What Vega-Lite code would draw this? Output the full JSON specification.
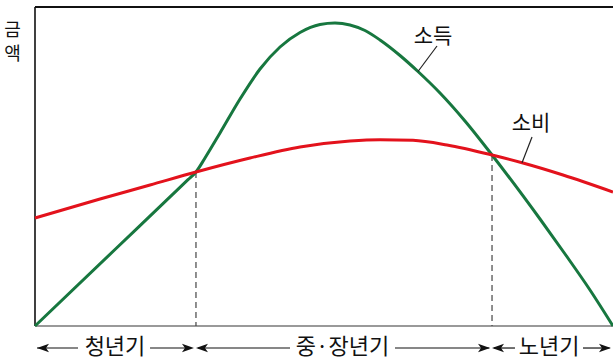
{
  "$schema": "https://vega.github.io/schema/vega-lite/v6.json",
  "width": 613,
  "height": 361,
  "autosize": {"type": "none"},
  "padding": 0,
  "background": "white",
  "config": {"view": {"stroke": null}, "text": {"font": "Noto Sans CJK KR"}},
  "datasets": {
    "curves": [
      {"series": "소득", "age": 0, "amount": 0},
      {"series": "소득", "age": 13.84, "amount": 23.98},
      {"series": "소득", "age": 23.36, "amount": 40.47},
      {"series": "소득", "age": 26.47, "amount": 45.86},
      {"series": "소득", "age": 27.85, "amount": 48.28},
      {"series": "소득", "age": 29.41, "amount": 52.66},
      {"series": "소득", "age": 32.01, "amount": 60.5},
      {"series": "소득", "age": 35.47, "amount": 71.16},
      {"series": "소득", "age": 38.93, "amount": 80.56},
      {"series": "소득", "age": 42.39, "amount": 87.46},
      {"series": "소득", "age": 45.85, "amount": 92.01},
      {"series": "소득", "age": 49.31, "amount": 94.51},
      {"series": "소득", "age": 51.9, "amount": 94.98},
      {"series": "소득", "age": 54.5, "amount": 94.36},
      {"series": "소득", "age": 57.09, "amount": 92.63},
      {"series": "소득", "age": 59.69, "amount": 89.66},
      {"series": "소득", "age": 63.15, "amount": 84.8},
      {"series": "소득", "age": 66.26, "amount": 79.78},
      {"series": "소득", "age": 70.07, "amount": 73.04},
      {"series": "소득", "age": 74.39, "amount": 64.26},
      {"series": "소득", "age": 79.07, "amount": 53.61},
      {"series": "소득", "age": 87.37, "amount": 33.54},
      {"series": "소득", "age": 91.7, "amount": 22.57},
      {"series": "소득", "age": 96.02, "amount": 11.29},
      {"series": "소득", "age": 100, "amount": 0},
      {"series": "소비", "age": 0, "amount": 33.86},
      {"series": "소비", "age": 11.25, "amount": 39.81},
      {"series": "소비", "age": 19.9, "amount": 44.2},
      {"series": "소비", "age": 27.85, "amount": 48.28},
      {"series": "소비", "age": 37.2, "amount": 52.66},
      {"series": "소비", "age": 45.85, "amount": 56.11},
      {"series": "소비", "age": 54.5, "amount": 57.99},
      {"series": "소비", "age": 59.69, "amount": 58.4},
      {"series": "소비", "age": 65.4, "amount": 58.2},
      {"series": "소비", "age": 71.28, "amount": 56.74},
      {"series": "소비", "age": 79.07, "amount": 53.61},
      {"series": "소비", "age": 84.43, "amount": 51.1},
      {"series": "소비", "age": 91.35, "amount": 47.34},
      {"series": "소비", "age": 100, "amount": 42.01}
    ],
    "crossings": [
      {"age": 27.85, "amount": 48.28, "base": 0},
      {"age": 79.07, "amount": 53.61, "base": 0}
    ],
    "leftFrame": [{"x": 0, "y": 0, "x2": 0, "y2": 100}],
    "topFrame": [{"x": 0, "y": 100, "x2": 100, "y2": 100}],
    "bottomFrame": [{"x": 0, "y": 0, "x2": 100, "y2": 0}],
    "leaders": [
      {"x": 69.55, "y": 87.77, "x2": 66.26, "y2": 79.78},
      {"x": 85.99, "y": 59.25, "x2": 84.26, "y2": 51.2}
    ],
    "seriesLabels": [
      {"label": "소득", "x": 68.86, "y": 90.6},
      {"label": "소비", "x": 85.81, "y": 63.32}
    ],
    "yLabel": [
      {"label": "금\n액", "x": -3.89, "y": 92.48}
    ],
    "arrowLines": [
      {"x": 0.35, "x2": 7.44, "y": -6.9},
      {"x": 19.9, "x2": 27.0, "y": -6.9},
      {"x": 28.2, "x2": 44.12, "y": -6.9},
      {"x": 62.28, "x2": 78.6, "y": -6.9},
      {"x": 79.4, "x2": 83.04, "y": -6.9},
      {"x": 94.81, "x2": 99.4, "y": -6.9}
    ],
    "leftHeads": [
      {"x": 0.35, "y": -6.9},
      {"x": 27.85, "y": -6.9},
      {"x": 79.07, "y": -6.9}
    ],
    "rightHeads": [
      {"x": 27.5, "y": -6.9},
      {"x": 78.72, "y": -6.9},
      {"x": 99.65, "y": -6.9}
    ],
    "periods": [
      {"label": "청년기", "x": 13.84, "y": -6.6},
      {"label": "중·장년기", "x": 53.2, "y": -6.6},
      {"label": "노년기", "x": 88.93, "y": -6.6}
    ]
  },
  "layer": [
    {
      "data": {"name": "leftFrame"},
      "mark": {"type": "rule", "color": "#111", "strokeWidth": 1.6},
      "encoding": {
        "x": {"field": "x", "type": "quantitative", "scale": {"domain": [-6.055, 100], "nice": false, "zero": false}, "axis": null},
        "y": {"field": "y", "type": "quantitative", "scale": {"domain": [-10.97, 102.19], "nice": false, "zero": false}, "axis": null},
        "x2": {"field": "x2"},
        "y2": {"field": "y2"}
      }
    },
    {
      "data": {"name": "topFrame"},
      "mark": {"type": "rule", "color": "#111", "strokeWidth": 2},
      "encoding": {
        "x": {"field": "x", "type": "quantitative"},
        "y": {"field": "y", "type": "quantitative"},
        "x2": {"field": "x2"},
        "y2": {"field": "y2"}
      }
    },
    {
      "data": {"name": "bottomFrame"},
      "mark": {"type": "rule", "color": "#777", "strokeWidth": 1.6},
      "encoding": {
        "x": {"field": "x", "type": "quantitative"},
        "y": {"field": "y", "type": "quantitative"},
        "x2": {"field": "x2"},
        "y2": {"field": "y2"}
      }
    },
    {
      "data": {"name": "crossings"},
      "mark": {"type": "rule", "color": "#444", "strokeWidth": 1.2, "strokeDash": [6, 4]},
      "encoding": {
        "x": {"field": "age", "type": "quantitative"},
        "y": {"field": "amount", "type": "quantitative"},
        "y2": {"field": "base"}
      }
    },
    {
      "data": {"name": "curves"},
      "mark": {"type": "line", "interpolate": "monotone", "strokeWidth": 3},
      "encoding": {
        "x": {"field": "age", "type": "quantitative"},
        "y": {"field": "amount", "type": "quantitative"},
        "color": {"field": "series", "type": "nominal", "scale": {"domain": ["소득", "소비"], "range": ["#17773f", "#e3121c"]}, "legend": null},
        "order": {"field": "age", "type": "quantitative"}
      }
    },
    {
      "data": {"name": "leaders"},
      "mark": {"type": "rule", "color": "#222", "strokeWidth": 1.2},
      "encoding": {
        "x": {"field": "x", "type": "quantitative"},
        "y": {"field": "y", "type": "quantitative"},
        "x2": {"field": "x2"},
        "y2": {"field": "y2"}
      }
    },
    {
      "data": {"name": "seriesLabels"},
      "mark": {"type": "text", "fontSize": 21, "color": "#111", "align": "center", "baseline": "middle"},
      "encoding": {
        "x": {"field": "x", "type": "quantitative"},
        "y": {"field": "y", "type": "quantitative"},
        "text": {"field": "label"}
      }
    },
    {
      "data": {"name": "yLabel"},
      "mark": {"type": "text", "fontSize": 18, "lineHeight": 24, "lineBreak": "\n", "color": "#111", "align": "center", "baseline": "middle"},
      "encoding": {
        "x": {"field": "x", "type": "quantitative"},
        "y": {"field": "y", "type": "quantitative"},
        "text": {"field": "label"}
      }
    },
    {
      "data": {"name": "arrowLines"},
      "mark": {"type": "rule", "color": "#111", "strokeWidth": 1.2},
      "encoding": {
        "x": {"field": "x", "type": "quantitative"},
        "x2": {"field": "x2"},
        "y": {"field": "y", "type": "quantitative"}
      }
    },
    {
      "data": {"name": "leftHeads"},
      "mark": {"type": "point", "filled": true, "color": "#111", "opacity": 1, "size": 144, "shape": "M0,0 L2,-0.7 L1.5,0 L2,0.7 Z"},
      "encoding": {
        "x": {"field": "x", "type": "quantitative"},
        "y": {"field": "y", "type": "quantitative"}
      }
    },
    {
      "data": {"name": "rightHeads"},
      "mark": {"type": "point", "filled": true, "color": "#111", "opacity": 1, "size": 144, "shape": "M0,0 L-2,-0.7 L-1.5,0 L-2,0.7 Z"},
      "encoding": {
        "x": {"field": "x", "type": "quantitative"},
        "y": {"field": "y", "type": "quantitative"}
      }
    },
    {
      "data": {"name": "periods"},
      "mark": {"type": "text", "fontSize": 22, "color": "#111", "align": "center", "baseline": "middle"},
      "encoding": {
        "x": {"field": "x", "type": "quantitative"},
        "y": {"field": "y", "type": "quantitative"},
        "text": {"field": "label"}
      }
    }
  ]
}
